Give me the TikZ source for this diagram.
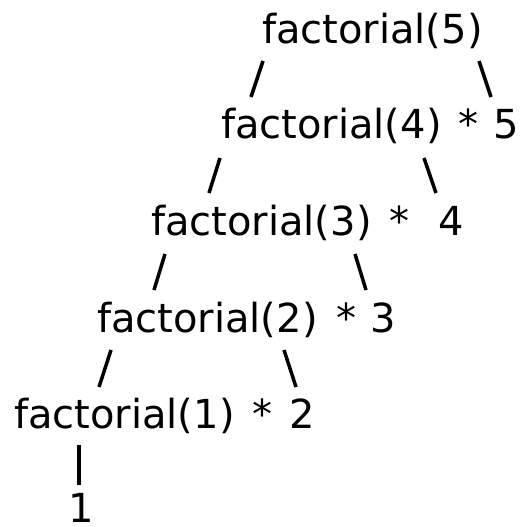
\documentclass[tikz,border=0pt]{standalone}
\usepackage{fontspec}
\setmainfont{DejaVu Sans}
\begin{document}
\begin{tikzpicture}[x=1pt,y=-1pt,
  txt/.style={inner sep=0pt,outer sep=0pt,font=\fontsize{40}{48}\selectfont},
  fn/.style={txt,anchor=base west},
  sym/.style={txt,anchor=base},
  conn/.style={line width=3.5pt,line cap=butt}]
\useasboundingbox (0,0) rectangle (523,527);
% row 1
\node[fn] (f5) at (262,44) {factorial(5)};
% row 2
\node[fn] (f4) at (221,138) {factorial(4)};
\node[sym] (s4) at (468,138) {*};
\node[sym] (n5) at (506,138) {5};
% row 3
\node[fn] (f3) at (151,235) {factorial(3)};
\node[sym] (s3) at (399,235) {*};
\node[sym] (n4) at (451,235) {4};
% row 4
\node[fn] (f2) at (97,332) {factorial(2)};
\node[sym] (s2) at (346,332) {*};
\node[sym] (n3) at (383,332) {3};
% row 5
\node[fn] (f1) at (14,428) {factorial(1)};
\node[sym] (s1) at (262,428) {*};
\node[sym] (n2) at (302,428) {2};
% row 6
\node[sym] (n1) at (81,522) {1};
% connectors
\draw[conn] ([shift={(1,17)}]f5.base west) -- ([shift={(30,-41)}]f4.base west);
\draw[conn] ([shift={(217,17)}]f5.base west) -- ([shift={(-15,-41)}]n5.base);
\draw[conn] ([shift={(-1,20)}]f4.base west) -- ([shift={(58,-42)}]f3.base west);
\draw[conn] ([shift={(203,20)}]f4.base west) -- ([shift={(-15,-42)}]n4.base);
\draw[conn] ([shift={(14,19)}]f3.base west) -- ([shift={(57,-42)}]f2.base west);
\draw[conn] ([shift={(204,19)}]f3.base west) -- ([shift={(-17,-42)}]n3.base);
\draw[conn] ([shift={(14,18)}]f2.base west) -- ([shift={(85,-41)}]f1.base west);
\draw[conn] ([shift={(187,18)}]f2.base west) -- ([shift={(-6,-41)}]n2.base);
\draw[conn] ([shift={(65,17)}]f1.base west) -- ([shift={(-2,-37)}]n1.base);
\end{tikzpicture}
\end{document}
